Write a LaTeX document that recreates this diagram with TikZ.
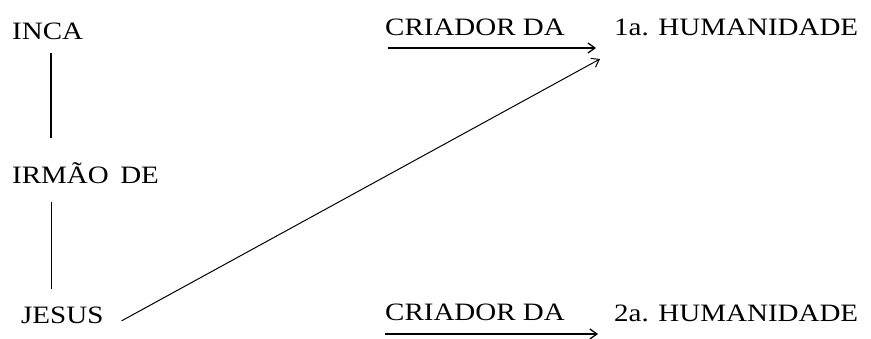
\documentclass[tikz,border=0pt]{standalone}
\usepackage{fontspec}
\setmainfont{Liberation Serif}[FakeStretch=1.16]
\usetikzlibrary{arrows.meta, positioning, calc}
\tikzset{
  lbl/.style={inner sep=0pt, anchor=base west, font=\fontsize{25}{25}\selectfont},
  link/.style={line width=1.2pt},
  arr/.style={-{Straight Barb[length=7pt,width=10pt]}, line width=1.3pt},
}

\begin{document}
\begin{tikzpicture}[x=1pt, y=-1pt]
  \useasboundingbox (0,0) rectangle (871,338);

  \node[lbl] (inca)     at (12,39)   {INCA};
  \node[lbl] (irmao)    at (12,183)  {IRMÃO\, DE};
  \node[lbl] (jesus)    at (21,323)  {JESUS};
  \node[lbl] (criador1) at (385,35)  {CRIADOR DA};
  \node[lbl] (hum1)     at (614,35)  {1a. HUMANIDADE};
  \node[lbl] (criador2) at (385,320) {CRIADOR DA};
  \node[lbl] (hum2)     at (614,321) {2a. HUMANIDADE};

  \coordinate (up1) at ($(criador1.base west)+(3,13)$);
  \coordinate (up2) at ($(criador2.base west)+(0,14)$);

  \draw[link] ($(inca.base west)+(39,14)$) -- ($(irmao.base west)+(39,-45)$);
  \draw[link, line width=0.9pt] ($(irmao.base west)+(39,19)$) -- ($(jesus.base west)+(30,-34)$);

  \draw[arr] (up1) -- ($(up1 -| hum1.west)+(-18,0)$);
  \draw[arr] (up2) -- ($(up2 -| hum2.west)+(-16,0)$);
  \draw[arr, line width=1pt] ($(jesus.east)+(18,6)$) -- ($(hum1.base west)+(-14,24)$);
\end{tikzpicture}
\end{document}
